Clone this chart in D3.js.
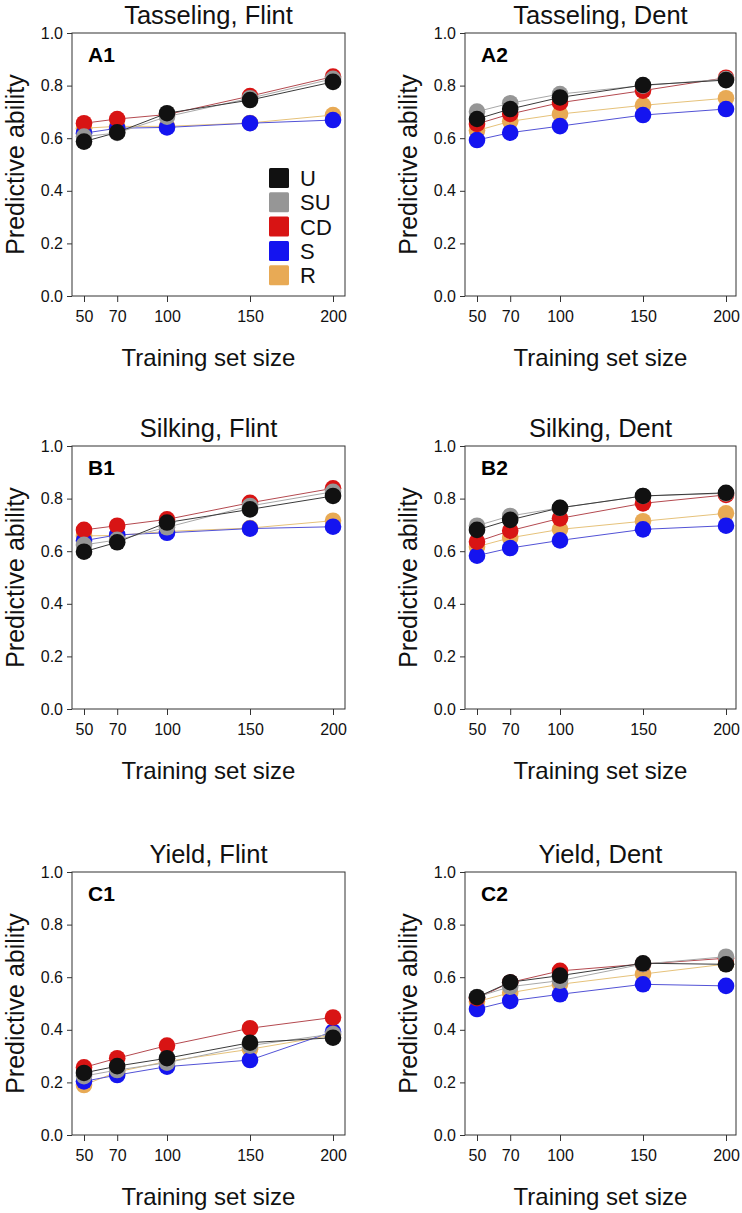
<!DOCTYPE html>
<html>
<head>
<meta charset="utf-8">
<script src="https://cdn.jsdelivr.net/npm/d3@7"></script>
<style>
  html, body { margin: 0; padding: 0; background: #fff; }
  svg { display: block; font-family: "Liberation Sans", Arial, Helvetica, sans-serif; }
</style>
</head>
<body>
<svg id="chart" width="742" height="1213"></svg>
<script>
// ---------- data ----------
const sizes = [50, 70, 100, 150, 200];
const methods = ["U", "SU", "CD", "S", "R"];
const yTicks = [0, 0.2, 0.4, 0.6, 0.8, 1.0];

// rows follow methods order: U, SU, CD, S, R
const tasselingFlint = [
  [0.587, 0.622, 0.695, 0.745, 0.814],
  [0.606, 0.620, 0.682, 0.752, 0.826],
  [0.657, 0.673, 0.690, 0.760, 0.834],
  [0.619, 0.638, 0.641, 0.657, 0.669],
  [0.638, 0.645, 0.645, 0.658, 0.688]
];
const tasselingDent = [
  [0.673, 0.711, 0.755, 0.802, 0.821],
  [0.701, 0.733, 0.768, 0.800, 0.825],
  [0.654, 0.692, 0.735, 0.781, 0.830],
  [0.593, 0.621, 0.646, 0.688, 0.711],
  [0.629, 0.664, 0.692, 0.725, 0.752]
];
const silkingFlint = [
  [0.598, 0.634, 0.709, 0.759, 0.810],
  [0.624, 0.643, 0.691, 0.772, 0.826],
  [0.681, 0.697, 0.721, 0.784, 0.839],
  [0.640, 0.662, 0.670, 0.686, 0.693],
  [0.658, 0.660, 0.675, 0.688, 0.716]
];
const silkingDent = [
  [0.681, 0.719, 0.765, 0.810, 0.822],
  [0.697, 0.734, 0.765, 0.810, 0.820],
  [0.636, 0.678, 0.725, 0.782, 0.814],
  [0.583, 0.612, 0.641, 0.683, 0.697],
  [0.617, 0.651, 0.683, 0.714, 0.744]
];
const yieldFlint = [
  [0.236, 0.262, 0.292, 0.351, 0.370],
  [0.224, 0.247, 0.275, 0.340, 0.384],
  [0.257, 0.292, 0.340, 0.406, 0.447],
  [0.204, 0.228, 0.260, 0.285, 0.393],
  [0.190, 0.240, 0.280, 0.326, 0.380]
];
const yieldDent = [
  [0.524, 0.581, 0.606, 0.653, 0.649],
  [0.525, 0.564, 0.587, 0.650, 0.678],
  [0.520, 0.580, 0.624, 0.650, 0.672],
  [0.479, 0.510, 0.535, 0.573, 0.567],
  [0.507, 0.541, 0.573, 0.612, 0.650]
];

const panelTitles = ["Tasseling, Flint", "Tasseling, Dent", "Silking, Flint", "Silking, Dent", "Yield, Flint", "Yield, Dent"];
const panelLabels = ["A1", "A2", "B1", "B2", "C1", "C2"];
const panelData = [tasselingFlint, tasselingDent, silkingFlint, silkingDent, yieldFlint, yieldDent];

// ---------- styling ----------
const pointColor = { U: "#111111", SU: "#969696", CD: "#d81414", S: "#1414f0", R: "#e8aa55" };
const lineColor  = { U: "#3a3a3a", SU: "#a8a8a8", CD: "#b44a50", S: "#5252d6", R: "#e6c27a" };
const drawOrder = ["R", "S", "CD", "SU", "U"];

const colBox = [{ l: 72, r: 345 }, { l: 465, r: 736 }];
const rowTop = [33, 446, 872];
const boxH = 263;

const svg = d3.select("#chart");

panelData.forEach((data, i) => {
  const col = i % 2, row = Math.floor(i / 2);
  const L = colBox[col].l, R = colBox[col].r;
  const T = rowTop[row], B = T + boxH;

  const x = d3.scaleLinear().domain([50, 200]).range([L + 12, L + 261]);
  const y = d3.scaleLinear().domain([0, 1]).range([B, T]);

  const g = svg.append("g");

  // box
  g.append("rect")
    .attr("x", L).attr("y", T)
    .attr("width", R - L).attr("height", boxH)
    .attr("fill", "none").attr("stroke", "#333").attr("stroke-width", 1);

  // x axis
  const xa = g.append("g").attr("transform", `translate(0,${B})`)
    .call(d3.axisBottom(x).tickValues(sizes).tickSize(6).tickPadding(9).tickFormat(d3.format("d")));
  xa.attr("font-size", null).attr("font-family", null);
  xa.select(".domain").remove();
  xa.selectAll("line").attr("stroke", "#333");
  xa.selectAll("text").style("font-size", "16px").attr("fill", "#111");

  // y axis
  const ya = g.append("g").attr("transform", `translate(${L},0)`)
    .call(d3.axisLeft(y).tickValues(yTicks).tickSize(5).tickPadding(4).tickFormat(d3.format(".1f")));
  ya.attr("font-size", null).attr("font-family", null);
  ya.select(".domain").remove();
  ya.selectAll("line").attr("stroke", "#333");
  ya.selectAll("text").style("font-size", "16px").attr("fill", "#111");

  // title
  g.append("text")
    .attr("x", (L + R) / 2).attr("y", T - 9)
    .attr("text-anchor", "middle")
    .style("font-size", "25.5px").attr("fill", "#111")
    .text(panelTitles[i]);

  // x label
  g.append("text")
    .attr("x", (L + R) / 2).attr("y", B + 70)
    .attr("text-anchor", "middle")
    .style("font-size", "24px").attr("fill", "#111")
    .text("Training set size");

  // y label
  g.append("text")
    .attr("transform", `translate(${L - 48},${(T + B) / 2}) rotate(-90)`)
    .attr("text-anchor", "middle")
    .style("font-size", "25px").attr("fill", "#111")
    .text("Predictive ability");

  // panel label
  g.append("text")
    .attr("x", L + 16).attr("y", T + 29)
    .style("font-size", "21px").attr("font-weight", "bold").attr("fill", "#000")
    .text(panelLabels[i]);

  // series
  const line = d3.line().x((d, j) => x(sizes[j])).y(d => y(d));
  drawOrder.forEach(m => {
    const vals = data[methods.indexOf(m)];
    g.append("path")
      .attr("d", line(vals))
      .attr("fill", "none")
      .attr("stroke", lineColor[m]).attr("stroke-width", 1);
    g.selectAll(null).data(vals).enter().append("circle")
      .attr("cx", (d, j) => x(sizes[j]))
      .attr("cy", d => y(d))
      .attr("r", 8.3)
      .attr("fill", pointColor[m]);
  });

  // legend in first panel
  if (i === 0) {
    const lg = g.append("g");
    methods.forEach((m, k) => {
      const cy = 178 + k * 24.3;
      lg.append("rect")
        .attr("x", 269).attr("y", cy - 10)
        .attr("width", 20).attr("height", 20)
        .attr("rx", 1.5)
        .attr("fill", pointColor[m]);
      lg.append("text")
        .attr("x", 300).attr("y", cy + 8)
        .style("font-size", "22px").attr("fill", "#111")
        .text(m);
    });
  }
});
</script>
</body>
</html>
